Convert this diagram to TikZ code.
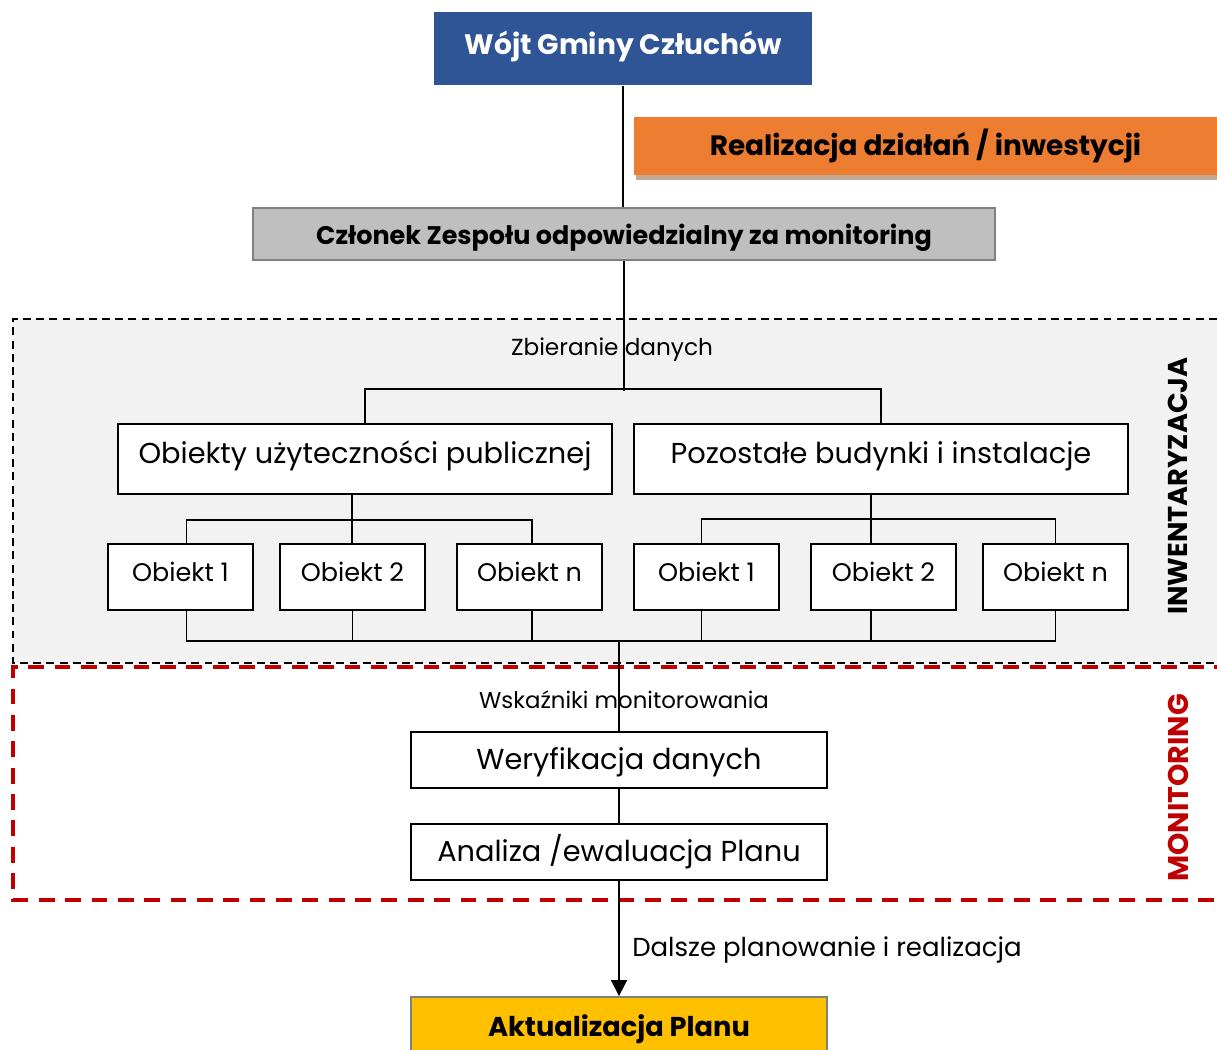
\documentclass[tikz,border=0pt]{standalone}
\usepackage{fontspec}
\setmainfont{Poppins}
\usepackage{tikz}
\usepackage{xcolor}
\usetikzlibrary{arrows.meta, positioning, calc}
\definecolor{wojtblue}{RGB}{47, 85, 151}
\definecolor{realorange}{RGB}{237, 125, 49}
\definecolor{shadetan}{RGB}{196, 168, 150}
\definecolor{memgray}{RGB}{191, 191, 191}
\definecolor{bordgray}{RGB}{128, 128, 128}
\definecolor{invgray}{RGB}{242, 242, 242}
\definecolor{monred}{RGB}{192, 0, 0}
\definecolor{aktyellow}{RGB}{255, 192, 0}

\begin{document}
\begin{tikzpicture}[x=0.02cm, y=-0.02cm, line width=1.1pt,
  box/.style={draw, fill=white, rectangle, inner sep=0pt, font=\fontsize{16.4}{19}\selectfont},
  obj/.style={box, minimum width=2.9cm, minimum height=1.32cm, text height=11pt, text depth=5.5pt, font=\fontsize{14.5}{17}\selectfont},
  head/.style={rectangle, inner sep=0pt, font=\bfseries\fontsize{15.5}{18}\selectfont},
  side/.style={rotate=90, inner sep=0pt, font=\bfseries\fontsize{15.5}{18}\selectfont},
  lbl/.style={inner sep=0pt, font=\fontsize{13.2}{15}\selectfont}]
  \useasboundingbox (0,0) rectangle (1217,1050);

  % Sections
  \fill[invgray] (13,319) rectangle (1230,663);
  \draw[dashed, dash pattern=on 4.5pt off 3pt] (1230,319) -- (13,319) -- (13,663) -- (1230,663);
  \draw[monred, line width=2.2pt, dash pattern=on 9pt off 6pt] (1230,667) -- (13,667) -- (13,900) -- (1230,900);
  \node[side] (inw) at (1178,486) {INWENTARYZACJA};
  \node[side, text=monred, font=\bfseries\fontsize{16.2}{18}\selectfont] (mon) at (1178,788) {MONITORING};

  % Top
  \node[head, fill=wojtblue, text=white, minimum width=7.56cm, minimum height=1.46cm, text height=12pt, text depth=5.5pt, font=\bfseries\fontsize{16}{19}\selectfont]
    (wojt) at (623,48.5) {Wójt Gminy Człuchów};
  \fill[shadetan] (636,175) rectangle (1217,180);
  \node[head, fill=realorange, minimum width=11.66cm, minimum height=1.16cm, font=\bfseries\fontsize{15.9}{18}\selectfont]
    (real) at (925.5,146) {Realizacja działań / inwestycji};
  \node[head, draw=bordgray, fill=memgray, minimum width=14.86cm, minimum height=1.04cm, text height=16pt, text depth=3.5pt, font=\bfseries\fontsize{14.5}{17}\selectfont]
    (czl) at (624,234) {Członek Zespołu odpowiedzialny za monitoring};

  % Inventory
  \node[lbl] (zbier) at (612,350) {Zbieranie danych};
  \node[box, minimum width=9.88cm, minimum height=1.4cm, text height=12pt, text depth=6.5pt] (publ) at (365,459) {Obiekty użyteczności publicznej};
  \node[box, minimum width=9.88cm, minimum height=1.4cm, text height=12pt, text depth=6.5pt] (poz) at (881,459) {Pozostałe budynki i instalacje};
  \node[obj] (l1) at (180.5,577) {Obiekt 1};
  \node[obj] (l2) at (352.5,577) {Obiekt 2};
  \node[obj] (l3) at (529.5,577) {Obiekt n};
  \node[obj] (r1) at (706.5,577) {Obiekt 1};
  \node[obj] (r2) at (883.5,577) {Obiekt 2};
  \node[obj] (r3) at (1055.5,577) {Obiekt n};

  % Monitoring
  \node[lbl, font=\fontsize{13}{15}\selectfont] (wsk) at (624,700) {Wskaźniki monitorowania};
  \node[box, minimum width=8.32cm, minimum height=1.12cm, text height=15pt, text depth=4pt] (wer) at (619,760) {Weryfikacja danych};
  \node[box, minimum width=8.32cm, minimum height=1.12cm] (ana) at (619,852) {Analiza /ewaluacja Planu};
  \node[head, draw=bordgray, fill=aktyellow, minimum width=8.32cm, minimum height=1.3cm]
    (akt) at (619,1029.5) {Aktualizacja Planu};

  % Connections
  \draw (wojt.south) -- (wojt.south |- czl.north);
  \draw (czl.south) -- ++(0,130) coordinate (zb);
  \draw (publ.north) -- ++(0,-34) -| (poz.north);
  \coordinate (pl) at (352,520);
  \coordinate (pr) at (871,519);
  \draw (pl |- publ.south) -- (pl);
  \draw ([xshift=0.12cm]l1.north) |- (pl) -| ([xshift=0.05cm]l3.north);
  \draw (pl) -- (pl |- l2.north);
  \draw (pr |- poz.south) -- (pr);
  \draw ([xshift=-0.1cm]r1.north) |- (pr) -| (r3.north);
  \draw (pr) -- (pr |- r2.north);
  \draw ([xshift=0.12cm]l1.south) -- ++(0,30) -| (r3.south);
  \draw (l2.south) -- ++(0,30);
  \draw ([xshift=0.05cm]l3.south) -- ++(0,30);
  \draw ([xshift=-0.1cm]r1.south) -- ++(0,30);
  \draw (pr |- r2.south) -- ++(0,30);
  \draw (wer.north |- 0,640) -- (wer.north);
  \draw (wer) -- (ana);
  \draw[-{Triangle[length=9pt, width=9pt]}] (ana.south) -- (akt.north)
    node[lbl, pos=0.6, right=7pt, font=\fontsize{14.8}{17}\selectfont] (dals) {Dalsze planowanie i realizacja};
\end{tikzpicture}
\end{document}
